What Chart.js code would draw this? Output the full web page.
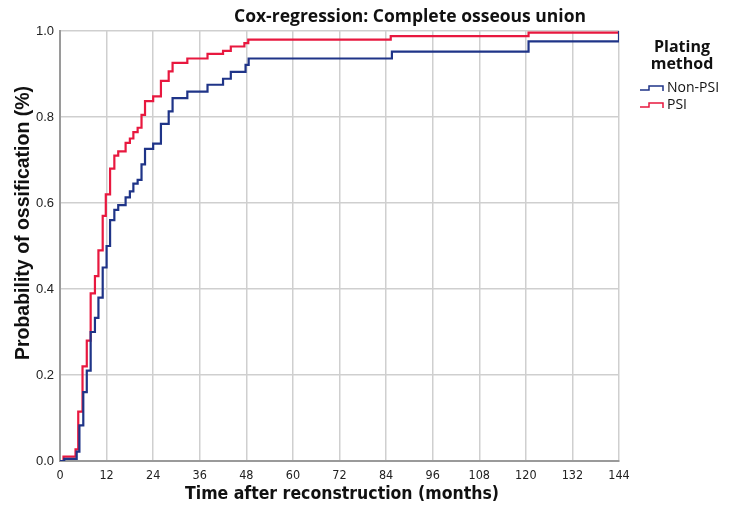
<!DOCTYPE html>
<html>
<head>
<meta charset="utf-8">
<script src="https://cdn.jsdelivr.net/npm/chart.js@4"></script>
<style>
  html, body { margin: 0; padding: 0; background: #fff; }
  #wrap { width: 731px; height: 524px; }
</style>
</head>
<body>
<div id="wrap"><canvas id="coxChart" width="731" height="524"></canvas></div>
<script>
// Cumulative probability of ossification (step curves)
const seriesNames = ["Non-PSI", "PSI"];

const nonPsiMonths = [0, 1.1, 4.3, 5.0, 6.0, 6.9, 7.9, 9.0, 9.9, 11.0, 12.0, 12.9, 14.0, 15.0, 16.9, 18.0, 18.9, 20.0, 21.0, 21.9, 24.0, 26.0, 28.0, 29.0, 32.8, 38.0, 42.0, 44.0, 47.8, 48.6, 85.5, 120.7, 144];
const nonPsiProb   = [0, 0.005, 0.022, 0.083, 0.16, 0.21, 0.30, 0.333, 0.38, 0.45, 0.50, 0.56, 0.584, 0.595, 0.613, 0.627, 0.645, 0.654, 0.69, 0.726, 0.738, 0.784, 0.813, 0.844, 0.859, 0.875, 0.889, 0.905, 0.921, 0.936, 0.952, 0.976, 1.0];

const psiMonths = [0, 0.9, 4.0, 4.7, 5.8, 6.9, 7.9, 9.0, 9.9, 11.0, 11.8, 12.9, 14.0, 15.0, 16.9, 18.0, 18.9, 20.0, 21.0, 21.9, 24.0, 26.0, 28.0, 29.0, 32.8, 38.0, 42.0, 44.0, 47.5, 48.5, 85.2, 120.7, 144];
const psiProb   = [0, 0.01, 0.027, 0.115, 0.22, 0.28, 0.39, 0.43, 0.49, 0.57, 0.62, 0.68, 0.71, 0.72, 0.74, 0.75, 0.765, 0.775, 0.805, 0.837, 0.848, 0.884, 0.906, 0.926, 0.936, 0.947, 0.954, 0.964, 0.972, 0.98, 0.988, 0.996, 1.0];

const xTicks = [0, 12, 24, 36, 48, 60, 72, 84, 96, 108, 120, 132, 144];
const yTicks = [0.0, 0.2, 0.4, 0.6, 0.8, 1.0];

const colors = ["#1f3488", "#e8183f"];

function toPoints(xs, ys) {
  return xs.map((x, i) => ({ x: x, y: ys[i] }));
}

// titles + legend drawn by hand to match placement
const decorations = {
  id: "decorations",
  afterDraw(chart) {
    const ctx = chart.ctx;
    ctx.save();
    ctx.fillStyle = "#111";
    ctx.textBaseline = "middle";

    ctx.textAlign = "center";
    ctx.font = "bold 17.5px 'Open Sans', sans-serif";
    ctx.fillText("Cox-regression: Complete osseous union", 410, 17);

    ctx.font = "bold 16px 'Open Sans', sans-serif";
    ctx.fillText("Plating", 682, 47);
    ctx.fillText("method", 682, 64);

    ctx.font = "bold 17.5px 'Liberation Sans Narrow', 'DejaVu Sans Condensed', sans-serif";
    ctx.fillText("Time after reconstruction (months)", 342, 494);

    ctx.save();
    ctx.translate(24, 223);
    ctx.rotate(-Math.PI / 2);
    ctx.font = "bold 19.5px 'Liberation Sans', Arial, sans-serif";
    ctx.fillText("Probability of ossification (%)", 0, 0);
    ctx.restore();

    // legend with step icons
    ctx.textAlign = "left";
    ctx.font = "14px 'Open Sans', sans-serif";
    seriesNames.forEach((name, i) => {
      const y = 88 + i * 17;
      ctx.strokeStyle = colors[i];
      ctx.lineWidth = 1.5;
      ctx.beginPath();
      ctx.moveTo(640, y + 2);
      ctx.lineTo(649, y + 2);
      ctx.lineTo(649, y - 2);
      ctx.lineTo(663, y - 2);
      ctx.lineTo(663, y + 3);
      ctx.stroke();
      ctx.fillStyle = "#111";
      ctx.fillText(name, 667, y);
    });
    ctx.restore();
  }
};

const ctx = document.getElementById("coxChart").getContext("2d");
new Chart(ctx, {
  type: "line",
  data: {
    datasets: [
      {
        label: seriesNames[0],
        data: toPoints(nonPsiMonths, nonPsiProb),
        borderColor: colors[0],
        borderWidth: 2.2,
        stepped: "before",
        pointRadius: 0,
        fill: false
      },
      {
        label: seriesNames[1],
        data: toPoints(psiMonths, psiProb),
        borderColor: colors[1],
        borderWidth: 2.2,
        stepped: "before",
        pointRadius: 0,
        fill: false
      }
    ]
  },
  options: {
    responsive: false,
    animation: false,
    layout: { padding: { left: 0, right: 112, top: 31, bottom: 0 } },
    plugins: {
      legend: { display: false },
      title: { display: false },
      tooltip: { enabled: false }
    },
    scales: {
      x: {
        type: "linear",
        min: 0,
        max: 144,
        afterBuildTicks: (scale) => { scale.ticks = xTicks.map(v => ({ value: v })); },
        afterFit: (scale) => { scale.height = 63; },
        ticks: {
          padding: 7,
          color: "#222",
          font: { family: "'Liberation Sans Narrow', 'DejaVu Sans Condensed', sans-serif", size: 12.5 }
        },
        grid: { color: "#cfcfcf", lineWidth: 1.5, drawTicks: false },
        border: { color: "#9a9a9a", width: 2 }
      },
      y: {
        min: 0,
        max: 1,
        afterBuildTicks: (scale) => { scale.ticks = yTicks.map(v => ({ value: v })); },
        afterFit: (scale) => { scale.width = 60; },
        ticks: {
          padding: 6,
          color: "#222",
          font: { family: "'Liberation Sans', Arial, sans-serif", size: 13 },
          callback: (v) => Number(v).toFixed(1)
        },
        grid: { color: "#cfcfcf", lineWidth: 1.5, drawTicks: false },
        border: { color: "#9a9a9a", width: 2 }
      }
    }
  },
  plugins: [decorations]
});
</script>
</body>
</html>
